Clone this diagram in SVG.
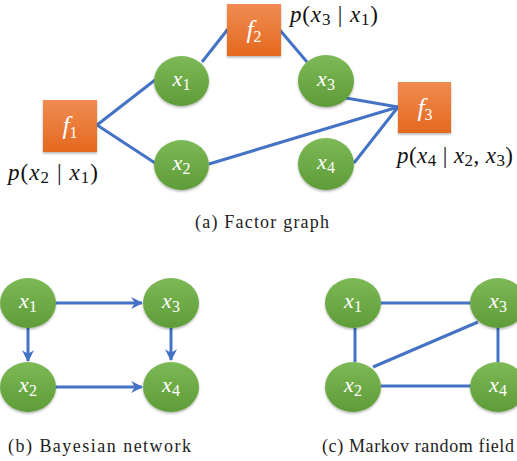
<svg xmlns="http://www.w3.org/2000/svg" width="517" height="461" viewBox="0 0 517 461" font-family="'Liberation Serif', 'Times New Roman', 'DejaVu Serif', serif">
<defs>
<linearGradient id="gg" x1="0" y1="0" x2="0" y2="1"><stop offset="0" stop-color="#7db956"/><stop offset="1" stop-color="#5e9c38"/></linearGradient>
<linearGradient id="og" x1="0" y1="0" x2="0" y2="1"><stop offset="0" stop-color="#f08b52"/><stop offset="1" stop-color="#e4691e"/></linearGradient>
<filter id="sh" x="-20%" y="-20%" width="140%" height="150%"><feDropShadow dx="0" dy="1.5" stdDeviation="1.2" flood-color="#000" flood-opacity="0.3"/></filter>
<marker id="ar" viewBox="0 0 10 10" refX="9" refY="5" markerWidth="4" markerHeight="4" orient="auto" markerUnits="strokeWidth"><path d="M0,0 L10,5 L0,10 L3,5 z" fill="#4472c4"/></marker>
</defs>
<style>
.n{fill:url(#gg);filter:url(#sh)}
.f{fill:url(#og);filter:url(#sh)}
.e{stroke:#4472c4;stroke-width:3;fill:none}
.nl{font-style:italic;font-size:22px;fill:#fff;text-anchor:middle}
.fl{font-size:26px}
.sub{font-style:normal;font-size:16px}
.lb{font-size:23px;fill:#111}
.cap{font-size:18px;fill:#222}
</style>
<g id="connectors">
<line class="e" x1="97" y1="125" x2="155" y2="80"/>
<line class="e" x1="97" y1="125" x2="155" y2="163"/>
<line class="e" x1="202" y1="62" x2="228" y2="29"/>
<line class="e" x1="279" y1="29" x2="307" y2="62"/>
<line class="e" x1="346" y1="98" x2="398" y2="107"/>
<line class="e" x1="209" y1="164" x2="398" y2="107"/>
<line class="e" x1="354" y1="163" x2="398" y2="107"/>
<line class="e" x1="55" y1="303" x2="142" y2="303" marker-end="url(#ar)"/>
<line class="e" x1="28" y1="328" x2="28" y2="361" marker-end="url(#ar)"/>
<line class="e" x1="171" y1="328" x2="171" y2="360" marker-end="url(#ar)"/>
<line class="e" x1="55" y1="387" x2="142" y2="387" marker-end="url(#ar)"/>
<line class="e" x1="381" y1="303" x2="471" y2="303"/>
<line class="e" x1="355" y1="328" x2="355" y2="362"/>
<line class="e" x1="498" y1="328" x2="498" y2="362"/>
<line class="e" x1="381" y1="386" x2="471" y2="386"/>
<line class="e" x1="373" y1="367" x2="478" y2="322"/>
</g>
<g id="f1"><rect class="f" x="43" y="100" width="54" height="52"/><text class="nl fl" x="70" y="134">f<tspan class="sub" font-size="18" dy="4">1</tspan></text></g>
<g id="f2"><rect class="f" x="227" y="4" width="54" height="52"/><text class="nl fl" x="254" y="38">f<tspan class="sub" font-size="18" dy="4">2</tspan></text></g>
<g id="f3"><rect class="f" x="398" y="82" width="53" height="51"/><text class="nl fl" x="425" y="116">f<tspan class="sub" font-size="18" dy="4">3</tspan></text></g>
<g id="a_x1"><ellipse class="n" cx="181.5" cy="81" rx="27.5" ry="25"/><text class="nl" x="181.5" y="86">x<tspan class="sub" dy="4">1</tspan></text></g>
<g id="a_x2"><ellipse class="n" cx="181.5" cy="165" rx="27.5" ry="25"/><text class="nl" x="181.5" y="170">x<tspan class="sub" dy="4">2</tspan></text></g>
<g id="a_x3"><ellipse class="n" cx="326" cy="81" rx="28" ry="26"/><text class="nl" x="326" y="86">x<tspan class="sub" dy="4">3</tspan></text></g>
<g id="a_x4"><ellipse class="n" cx="326" cy="164" rx="28" ry="26"/><text class="nl" x="326" y="169">x<tspan class="sub" dy="4">4</tspan></text></g>
<g id="label_f1"><text class="lb" x="8" y="180" textLength="90"><tspan font-style="italic">p</tspan>(<tspan font-style="italic">x</tspan><tspan font-size="17" dy="3">2</tspan><tspan dy="-3"> | </tspan><tspan font-style="italic">x</tspan><tspan font-size="17" dy="3">1</tspan><tspan dy="-3">)</tspan></text></g>
<g id="label_f2"><text class="lb" x="290" y="22" textLength="88"><tspan font-style="italic">p</tspan>(<tspan font-style="italic">x</tspan><tspan font-size="17" dy="3">3</tspan><tspan dy="-3"> | </tspan><tspan font-style="italic">x</tspan><tspan font-size="17" dy="3">1</tspan><tspan dy="-3">)</tspan></text></g>
<g id="label_f3"><text class="lb" x="397" y="163" textLength="116"><tspan font-style="italic">p</tspan>(<tspan font-style="italic">x</tspan><tspan font-size="17" dy="3">4</tspan><tspan dy="-3"> | </tspan><tspan font-style="italic">x</tspan><tspan font-size="17" dy="3">2</tspan><tspan dy="-3">, </tspan><tspan font-style="italic">x</tspan><tspan font-size="17" dy="3">3</tspan><tspan dy="-3">)</tspan></text></g>
<text class="cap" x="195" y="228" textLength="134">(a) Factor graph</text>
<g id="b_x1"><ellipse class="n" cx="28" cy="303" rx="28" ry="25"/><text class="nl" x="28" y="308">x<tspan class="sub" dy="4">1</tspan></text></g>
<g id="b_x3"><ellipse class="n" cx="171" cy="303" rx="28" ry="25"/><text class="nl" x="171" y="308">x<tspan class="sub" dy="4">3</tspan></text></g>
<g id="b_x2"><ellipse class="n" cx="28" cy="387" rx="28" ry="25"/><text class="nl" x="28" y="392">x<tspan class="sub" dy="4">2</tspan></text></g>
<g id="b_x4"><ellipse class="n" cx="171" cy="387" rx="28" ry="25"/><text class="nl" x="171" y="392">x<tspan class="sub" dy="4">4</tspan></text></g>
<text class="cap" x="8" y="452" textLength="183">(b) Bayesian network</text>
<g id="c_x1"><ellipse class="n" cx="353" cy="303" rx="28" ry="25"/><text class="nl" x="353" y="308">x<tspan class="sub" dy="4">1</tspan></text></g>
<g id="c_x3"><ellipse class="n" cx="498" cy="303" rx="28" ry="25"/><text class="nl" x="498" y="308">x<tspan class="sub" dy="4">3</tspan></text></g>
<g id="c_x2"><ellipse class="n" cx="353" cy="387" rx="28" ry="25"/><text class="nl" x="353" y="392">x<tspan class="sub" dy="4">2</tspan></text></g>
<g id="c_x4"><ellipse class="n" cx="498" cy="387" rx="28" ry="25"/><text class="nl" x="498" y="392">x<tspan class="sub" dy="4">4</tspan></text></g>
<text class="cap" x="322" y="452" textLength="192">(c) Markov random field</text>
</svg>
